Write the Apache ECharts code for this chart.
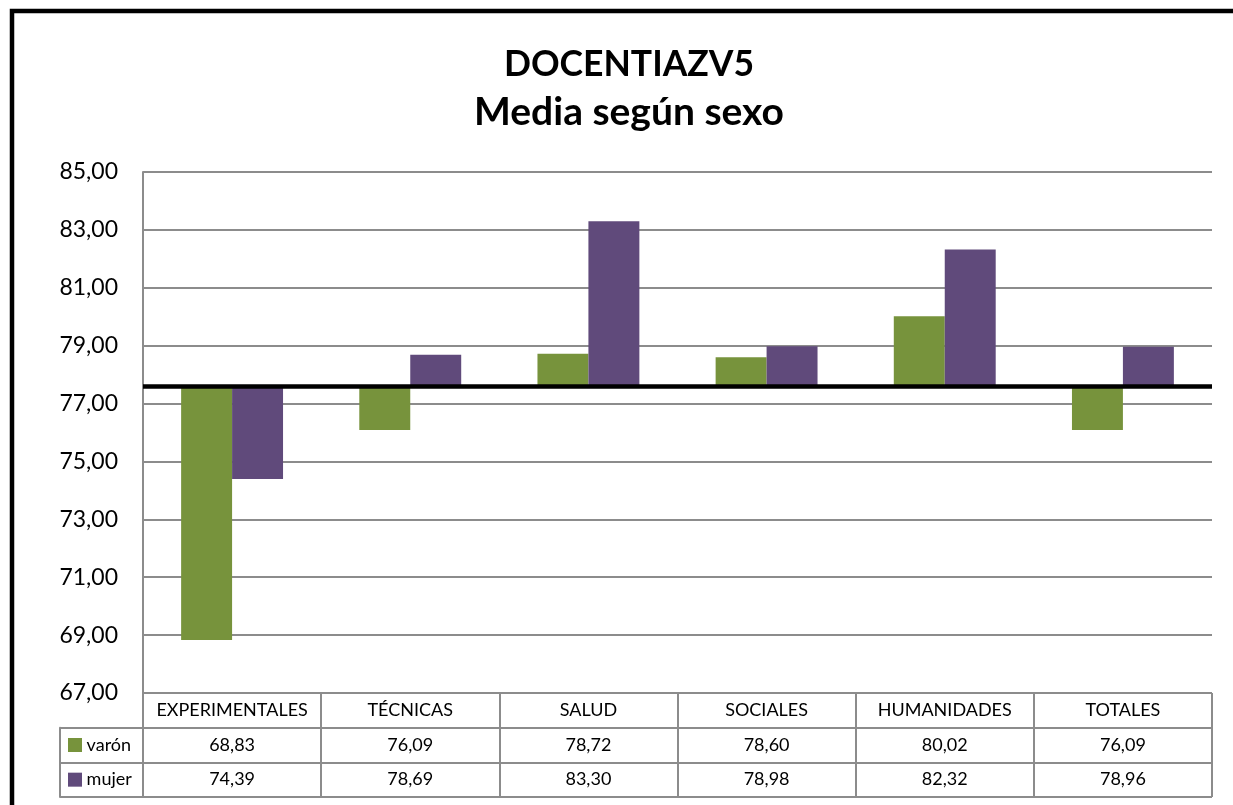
<!DOCTYPE html>
<html>
<head>
<meta charset="utf-8">
<title>DOCENTIAZV5 - Media según sexo</title>
<script src="https://cdn.jsdelivr.net/npm/echarts@6/dist/echarts.min.js"></script>
<style>
html, body { margin: 0; padding: 0; background: #fff; }
#main { width: 1233px; height: 805px; }
</style>
</head>
<body>
<div id="main"></div>
<script>
// datos
var categories = ['EXPERIMENTALES', 'TÉCNICAS', 'SALUD', 'SOCIALES', 'HUMANIDADES', 'TOTALES'];
var varon = [68.83, 76.09, 78.72, 78.60, 80.02, 76.09];
var mujer = [74.39, 78.69, 83.30, 78.98, 82.32, 78.96];
var rowNames = ['varón', 'mujer'];
var baseline = 77.6;
var titleLines = ['DOCENTIAZV5', 'Media según sexo'];

var green = '#77933C';
var purple = '#604A7B';
var gridGray = '#8c8c8c';
var font = 'Lato';

function fmt(v) {
    return v.toFixed(2).replace('.', ',');
}

// barras que salen de la linea base (no de 67)
function barItem(side, color) {
    return function (params, api) {
        var i = api.value(0);
        var v = api.value(1);
        var band = api.size([1, 0])[0];
        var w = band * 0.286;
        var top = api.coord([i, v]);
        var base = api.coord([i, baseline]);
        return {
            type: 'rect',
            shape: {
                x: side < 0 ? top[0] - w : top[0],
                y: Math.min(top[1], base[1]),
                width: w,
                height: Math.abs(base[1] - top[1])
            },
            style: { fill: color }
        };
    };
}

// texto de las celdas de la tabla
function cellItem(getText) {
    return function (params, api) {
        var p = api.coord([api.value(0), api.value(1)]);
        return {
            type: 'text',
            x: p[0],
            y: p[1],
            style: {
                text: getText(params.dataIndex, api),
                align: 'center',
                verticalAlign: 'middle',
                fontSize: 18,
                fontFamily: font,
                fill: '#000'
            }
        };
    };
}

var myChart = echarts.init(document.getElementById('main'));
var option = {
    animation: false,
    graphic: [
        {
            type: 'rect',
            silent: true,
            shape: { x: 12, y: 11, width: 1400, height: 1000 },
            style: { fill: 'none', stroke: '#000', lineWidth: 4.5 }
        },
        {
            type: 'text',
            x: 629, y: 64.5,
            style: {
                text: titleLines[0], align: 'center', verticalAlign: 'middle',
                fontFamily: font, fontWeight: 'bold', fontSize: 35.5, fill: '#000'
            }
        },
        {
            type: 'text',
            x: 629, y: 112,
            style: {
                text: titleLines[1], align: 'center', verticalAlign: 'middle',
                fontFamily: font, fontWeight: 'bold', fontSize: 39, fill: '#000'
            }
        }
    ],
    grid: [
        { left: 143, right: 21, top: 172, height: 521 },
        { left: 143, right: 21, top: 693, height: 104 },
        { left: 60, width: 83, top: 727.67, height: 69.33 }
    ],
    xAxis: [
        {
            gridIndex: 0, type: 'category', data: categories,
            axisLine: { show: false }, axisTick: { show: false }, axisLabel: { show: false }
        },
        {
            gridIndex: 1, type: 'category', data: categories,
            axisLine: { show: false }, axisTick: { show: false }, axisLabel: { show: false },
            splitLine: { show: true, lineStyle: { color: gridGray, width: 2 } }
        },
        { gridIndex: 2, type: 'value', show: false }
    ],
    yAxis: [
        {
            gridIndex: 0, type: 'value', min: 67, max: 85, interval: 2,
            axisLine: { show: true, lineStyle: { color: gridGray, width: 2 } },
            axisTick: { show: false },
            axisLabel: {
                margin: 25,
                fontFamily: font,
                fontSize: 23,
                color: '#000',
                formatter: fmt
            },
            splitLine: { lineStyle: { color: gridGray, width: 2 } }
        },
        {
            gridIndex: 1, type: 'category', data: [''].concat(rowNames), inverse: true,
            axisLine: { show: false }, axisTick: { show: false }, axisLabel: { show: false },
            splitLine: { show: true, lineStyle: { color: gridGray, width: 2 } }
        },
        {
            gridIndex: 2, type: 'category', data: rowNames, inverse: true,
            axisLine: { show: true, lineStyle: { color: gridGray, width: 2 } },
            axisTick: { show: false },
            splitLine: { show: true, lineStyle: { color: gridGray, width: 2 } },
            axisLabel: {
                inside: true,
                margin: 8,
                formatter: function (v, i) {
                    return '{sq' + i + '|}{t| ' + v + '}';
                },
                rich: {
                    sq0: { width: 14, height: 14, backgroundColor: green },
                    sq1: { width: 14, height: 14, backgroundColor: purple },
                    t: { fontFamily: font, fontSize: 18, color: '#000' }
                }
            }
        }
    ],
    series: [
        {
            name: 'varón',
            type: 'custom',
            xAxisIndex: 0, yAxisIndex: 0,
            renderItem: barItem(-1, green),
            encode: { x: 0, y: 1 },
            data: varon.map(function (v, i) { return [i, v]; })
        },
        {
            name: 'mujer',
            type: 'custom',
            xAxisIndex: 0, yAxisIndex: 0,
            renderItem: barItem(1, purple),
            encode: { x: 0, y: 1 },
            data: mujer.map(function (v, i) { return [i, v]; }),
            markLine: {
                silent: true,
                symbol: ['none', 'none'],
                label: { show: false },
                lineStyle: { color: '#000', width: 4.5, type: 'solid' },
                data: [{ yAxis: baseline }]
            }
        },
        {
            type: 'custom',
            xAxisIndex: 1, yAxisIndex: 1,
            renderItem: cellItem(function (idx) { return categories[idx]; }),
            encode: { x: 0, y: 1 },
            data: categories.map(function (c, i) { return [i, 0]; })
        },
        {
            type: 'custom',
            xAxisIndex: 1, yAxisIndex: 1,
            renderItem: cellItem(function (idx, api) { return fmt(api.value(2)); }),
            encode: { x: 0, y: 1 },
            data: varon.map(function (v, i) { return [i, 1, v]; })
        },
        {
            type: 'custom',
            xAxisIndex: 1, yAxisIndex: 1,
            renderItem: cellItem(function (idx, api) { return fmt(api.value(2)); }),
            encode: { x: 0, y: 1 },
            data: mujer.map(function (v, i) { return [i, 2, v]; })
        }
    ]
};
myChart.setOption(option);
</script>
</body>
</html>
